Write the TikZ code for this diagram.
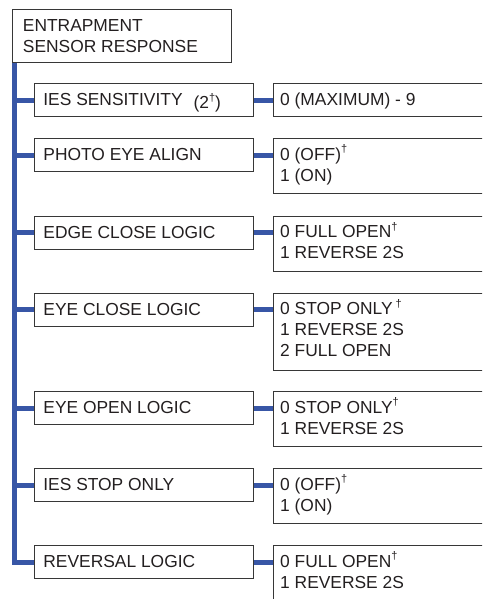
\documentclass[tikz,border=0pt]{standalone}
\usepackage{fontspec}
\setmainfont{Liberation Sans}
\definecolor{branch}{RGB}{56,86,166}
\definecolor{boxline}{RGB}{55,55,55}
\definecolor{txtc}{RGB}{35,31,32}
\newcommand{\dg}{\raisebox{7.5pt}{\fontsize{11}{11}\selectfont †}}
\newcommand{\lines}[1]{\begin{tabular}[t]{@{}l@{}}#1\end{tabular}}
\begin{document}
\begin{tikzpicture}[x=1pt,y=1pt,
  frame/.style={draw=boxline,line width=0.9pt,anchor=north west,inner sep=0pt},
  lbox/.style={frame,minimum width=219.6pt,minimum height=33pt},
  rbox/.style={frame,minimum width=240pt,minimum height=#1},
  conn/.style={draw=branch,line width=4.7pt},
  txt/.style={anchor=base west,inner sep=0pt,text=txtc,font=\fontsize{17.4}{20.8}\selectfont}]
\clip (0,0) rectangle (482,-599);
% top box
\node[frame,minimum width=219pt,minimum height=53pt] (top) at (12,-9) {};
\node[txt] (toptxt) at ([xshift=10.7pt,yshift=-22.5pt]top.north west) {\lines{ENTRAPMENT\\SENSOR RESPONSE}};
% left boxes
\node[lbox] (l1) at (33.7,-83.3) {};
\node[lbox] (l2) at (33.7,-138.3) {};
\node[lbox] (l3) at (33.7,-215.5) {};
\node[lbox] (l4) at (33.7,-292.5) {};
\node[lbox] (l5) at (33.7,-391.3) {};
\node[lbox] (l6) at (33.7,-468.3) {};
\node[lbox] (l7) at (33.7,-545.3) {};
% right boxes
\node[rbox=33pt] (r1) at (272.5,-83.3) {};
\node[rbox=55pt] (r2) at (272.5,-138.3) {};
\node[rbox=55pt] (r3) at (272.5,-215.5) {};
\node[rbox=77pt] (r4) at (272.5,-292.5) {};
\node[rbox=55pt] (r5) at (272.5,-391.3) {};
\node[rbox=55pt] (r6) at (272.5,-468.3) {};
\node[rbox=55pt] (r7) at (272.5,-545.3) {};
% left texts
\node[txt] (t1) at ([xshift=9.5pt,yshift=-22.5pt]l1.north west) {IES SENSITIVITY\hspace{11pt}\raisebox{-3pt}{(2\dg)}};
\node[txt] (t2) at ([xshift=9.5pt,yshift=-22.5pt]l2.north west) {PHOTO EYE ALIGN};
\node[txt] (t3) at ([xshift=9.5pt,yshift=-22.5pt]l3.north west) {EDGE CLOSE LOGIC};
\node[txt] (t4) at ([xshift=9.5pt,yshift=-22.5pt]l4.north west) {EYE CLOSE LOGIC};
\node[txt] (t5) at ([xshift=9.5pt,yshift=-22.5pt]l5.north west) {EYE OPEN LOGIC};
\node[txt] (t6) at ([xshift=9.5pt,yshift=-22.5pt]l6.north west) {IES STOP ONLY};
\node[txt] (t7) at ([xshift=9.5pt,yshift=-22.5pt]l7.north west) {REVERSAL LOGIC};
% right texts
\node[txt] (u1) at ([xshift=7.5pt,yshift=-22pt]r1.north west) {0 (MAXIMUM) - 9};
\node[txt] (u2) at ([xshift=7.5pt,yshift=-22pt]r2.north west) {\lines{0 (OFF)\dg\\1 (ON)}};
\node[txt] (u3) at ([xshift=7.5pt,yshift=-22pt]r3.north west) {\lines{0 FULL OPEN\dg\\1 REVERSE 2S}};
\node[txt] (u4) at ([xshift=7.5pt,yshift=-22pt]r4.north west) {\lines{0 STOP ONLY\,\dg\\1 REVERSE 2S\\2 FULL OPEN}};
\node[txt] (u5) at ([xshift=7.5pt,yshift=-22pt]r5.north west) {\lines{0 STOP ONLY\dg\\1 REVERSE 2S}};
\node[txt] (u6) at ([xshift=7.5pt,yshift=-22pt]r6.north west) {\lines{0 (OFF)\dg\\1 (ON)}};
\node[txt] (u7) at ([xshift=7.5pt,yshift=-22pt]r7.north west) {\lines{0 FULL OPEN\dg\\1 REVERSE 2S}};
% spine
\coordinate (sp) at ([xshift=2.35pt]top.south west);
\draw[conn] (sp) |- (l7.west);
\foreach \i in {1,...,6} {\draw[conn] (l\i.west -| sp) -- (l\i.west);}
\foreach \i in {1,...,7} {\draw[conn] (l\i.east) -- (l\i.east -| r\i.west);}
\end{tikzpicture}
\end{document}
